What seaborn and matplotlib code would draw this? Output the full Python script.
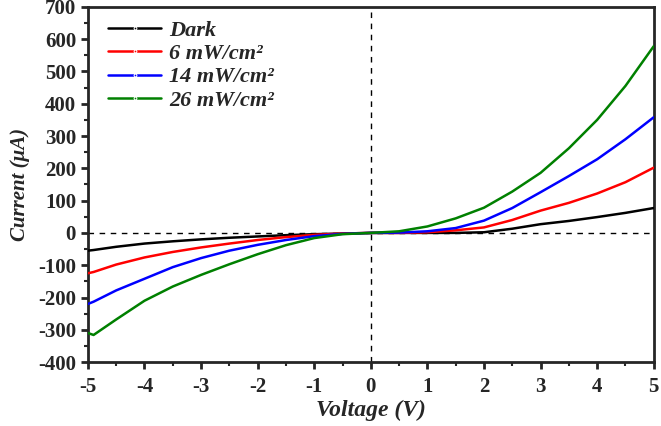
import numpy as np
import pandas as pd
import matplotlib
matplotlib.use("Agg")
import matplotlib.pyplot as plt
from matplotlib.ticker import MultipleLocator
import seaborn as sns

voltage = [-5, -4.9, -4.5, -4, -3.5, -3, -2.5, -2, -1.5, -1, -0.5, 0,
           0.5, 1, 1.5, 2, 2.5, 3, 3.5, 4, 4.5, 5]
dark = [-55, -53, -43, -33, -26, -20, -15, -11, -7, -4, -2, 0,
        0, 0, 0, 2, 13, 27, 37, 49, 62, 77]
p6 = [-125, -121, -98, -76, -59, -45, -33, -22, -13, -6, -2, 0,
      0, 2, 8, 17, 40, 69, 93, 122, 157, 202]
p14 = [-220, -213, -178, -142, -106, -78, -55, -37, -22, -10, -3, 0,
       1, 5, 15, 38, 77, 126, 176, 228, 290, 358]
p26 = [-310, -316, -268, -210, -166, -130, -97, -66, -38, -16, -4, 0,
       5, 20, 45, 78, 128, 186, 262, 350, 455, 578]
labels = ["Dark", "6 mW/cm²", "14 mW/cm²", "26 mW/cm²"]
colors = ["#000000", "#ff0000", "#0000ff", "#008000"]

frames = []
for lab, vals in zip(labels, [dark, p6, p14, p26]):
    frames.append(pd.DataFrame({"Voltage": voltage, "Current": vals, "Series": lab}))
df = pd.concat(frames, ignore_index=True)

sns.set_style("ticks")
plt.rcParams['font.family'] = ['Liberation Serif', 'DejaVu Serif']
plt.rcParams['axes.unicode_minus'] = False

fig = plt.figure(figsize=(6.61, 4.26), dpi=100)
ax = fig.add_axes([0.133, 0.150, 0.856, 0.834])

ax.axhline(0, color="black", lw=1.0, ls=(0, (4, 4)), zorder=1)
ax.axvline(0, color="black", lw=1.0, ls=(0, (4, 4)), zorder=1)

sns.lineplot(data=df, x="Voltage", y="Current", hue="Series", palette=colors,
             hue_order=labels, ax=ax, lw=1.8, marker="o", markersize=0,
             legend=True, zorder=3)

ax.set_xlim(-5, 5)
ax.set_ylim(-400, 700)
ax.xaxis.set_major_locator(MultipleLocator(1))
ax.xaxis.set_minor_locator(MultipleLocator(0.5))
ax.yaxis.set_major_locator(MultipleLocator(100))
ax.yaxis.set_minor_locator(MultipleLocator(50))
ax.tick_params(axis="both", which="major", direction="out", length=5, width=2,
               labelsize=15, top=False, right=False)
ax.tick_params(axis="x", which="major", pad=6)
ax.tick_params(axis="both", which="minor", direction="out", length=3, width=1.5,
               top=False, right=False)
for lab in ax.get_xticklabels() + ax.get_yticklabels():
    lab.set_fontweight("bold")
for s in ax.spines.values():
    s.set_linewidth(2)
    s.set_visible(True)

ax.set_xlabel("Voltage (V)", fontsize=17, fontweight="bold", style="italic", labelpad=2)
ax.set_ylabel("Current (μA)", fontsize=15, fontweight="bold", style="italic", labelpad=6)

handles, labs = ax.get_legend_handles_labels()
for h in handles:
    h.set_marker("o")
    h.set_markersize(2)
leg = ax.legend(handles, labs, loc="upper left", frameon=False, fontsize=16,
                handlelength=2.4, handletextpad=0.35, labelspacing=0.12,
                bbox_to_anchor=(0.0, 1.018))
for t in leg.get_texts():
    t.set_fontweight("bold")
    t.set_fontstyle("italic")

fig.savefig("out.png", dpi=100)
